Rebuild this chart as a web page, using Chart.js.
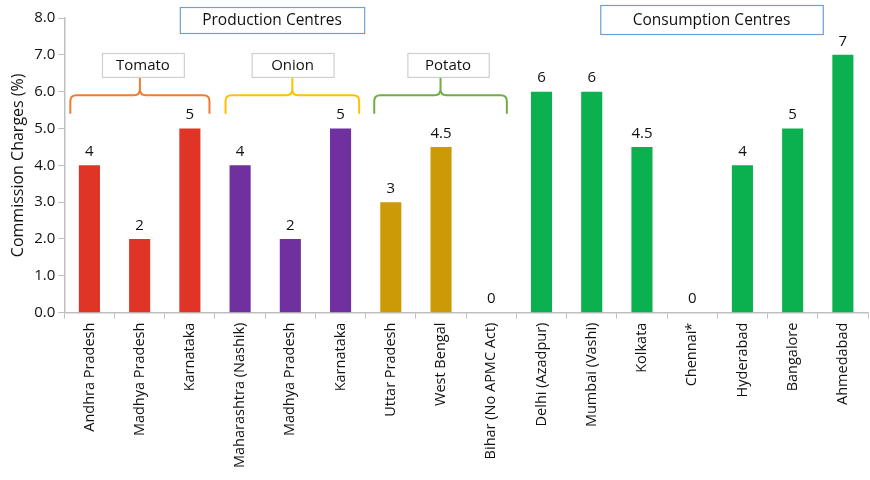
<!DOCTYPE html>
<html>
<head>
<meta charset="utf-8">
<script src="https://cdn.jsdelivr.net/npm/chart.js@4"></script>
<style>
  html, body { margin: 0; padding: 0; background: #fff; }
  #wrap { width: 870px; height: 480px; }
</style>
</head>
<body>
<div id="wrap"><canvas id="chart"></canvas></div>
<script>
// categories
const tomatoStates = ["Andhra Pradesh", "Madhya Pradesh", "Karnataka"];
const onionStates = ["Maharashtra (Nashik)", "Madhya Pradesh", "Karnataka"];
const potatoStates = ["Uttar Pradesh", "West Bengal", "Bihar (No APMC Act)"];
const consumptionCities = ["Delhi (Azadpur)", "Mumbai (Vashi)", "Kolkata", "Chennai*", "Hyderabad", "Bangalore", "Ahmedabad"];

// commission charges (%)
const tomatoValues = [4, 2, 5];
const onionValues = [4, 2, 5];
const potatoValues = [3, 4.5, 0];
const consumptionValues = [6, 6, 4.5, 0, 4, 5, 7];

const yTicks = [0, 1, 2, 3, 4, 5, 6, 7, 8];

const FONT = "'Open Sans', sans-serif";

const labels = [...tomatoStates, ...onionStates, ...potatoStates, ...consumptionCities];
const values = [...tomatoValues, ...onionValues, ...potatoValues, ...consumptionValues];
const colors = [
  ...tomatoValues.map(() => "#e03426"),
  ...onionValues.map(() => "#7030a0"),
  ...potatoValues.map(() => "#cc9a06"),
  ...consumptionValues.map(() => "#0bb04f"),
];

// value labels above bars
const valueLabels = {
  id: "valueLabels",
  afterDatasetsDraw(chart) {
    const ctx = chart.ctx;
    const meta = chart.getDatasetMeta(0);
    ctx.save();
    ctx.font = "15px " + FONT;
    ctx.fillStyle = "#111";
    ctx.textAlign = "center";
    ctx.textBaseline = "bottom";
    meta.data.forEach((bar, i) => {
      ctx.fillText(String(values[i]), bar.x, bar.y - 6);
    });
    ctx.restore();
  },
};

function drawBrace(ctx, x1, x2, yLine, yEnd, yTip, color) {
  const r = 6;
  const mid = (x1 + x2) / 2;
  ctx.strokeStyle = color;
  ctx.lineWidth = 2;
  ctx.beginPath();
  ctx.moveTo(x1, yEnd);
  ctx.lineTo(x1, yLine + r);
  ctx.quadraticCurveTo(x1, yLine, x1 + r, yLine);
  ctx.lineTo(mid - r, yLine);
  ctx.quadraticCurveTo(mid, yLine, mid, yLine - r);
  ctx.lineTo(mid, yTip);
  ctx.moveTo(mid, yLine - r);
  ctx.quadraticCurveTo(mid, yLine, mid + r, yLine);
  ctx.lineTo(x2 - r, yLine);
  ctx.quadraticCurveTo(x2, yLine, x2, yLine + r);
  ctx.lineTo(x2, yEnd);
  ctx.stroke();
}

function drawBox(ctx, x1, x2, y1, y2, text, border, size) {
  ctx.fillStyle = "#fff";
  ctx.fillRect(x1, y1, x2 - x1, y2 - y1);
  ctx.strokeStyle = border;
  ctx.lineWidth = 1.2;
  ctx.strokeRect(x1 + 0.5, y1 + 0.5, x2 - x1, y2 - y1);
  ctx.fillStyle = "#111";
  ctx.font = size + "px " + FONT;
  ctx.textAlign = "center";
  ctx.textBaseline = "middle";
  ctx.fillText(text, (x1 + x2) / 2, (y1 + y2) / 2 + 1);
}

// group annotations: boxes and braces
const groupNotes = {
  id: "groupNotes",
  afterDraw(chart) {
    const ctx = chart.ctx;
    const xs = chart.scales.x;
    const ys = chart.scales.y;
    const cw = xs.width / labels.length;
    const px = (c) => xs.left + c * cw;
    ctx.save();
    drawBox(ctx, px(2.3), px(5.97), 7, 33, "Production Centres", "#6f9fd8", 15.5);
    drawBox(ctx, px(10.67), px(15.1), 5, 34, "Consumption Centres", "#6f9fd8", 15.5);

    const yLine = ys.getPixelForValue(5.9);
    const yEnd = ys.getPixelForValue(5.4);
    const yTip = ys.getPixelForValue(6.45);
    drawBrace(ctx, px(0.12), px(2.89), yLine, yEnd, yTip, "#ed7d31");
    drawBrace(ctx, px(3.21), px(5.87), yLine, yEnd, yTip, "#ffc000");
    drawBrace(ctx, px(6.17), px(8.81), yLine, yEnd, yTip, "#70ad47");

    const bTop = ys.getPixelForValue(7.05);
    const bBot = ys.getPixelForValue(6.4);
    drawBox(ctx, px(0.75), px(2.38), bTop, bBot, "Tomato", "#cfcfcf", 15);
    drawBox(ctx, px(3.73), px(5.36), bTop, bBot, "Onion", "#cfcfcf", 15);
    drawBox(ctx, px(6.83), px(8.45), bTop, bBot, "Potato", "#cfcfcf", 15);
    ctx.restore();
  },
};

new Chart(document.getElementById("chart"), {
  type: "bar",
  data: {
    labels: labels,
    datasets: [{
      data: values,
      backgroundColor: colors,
      barPercentage: 0.6,
      categoryPercentage: 0.7,
    }],
  },
  options: {
    responsive: true,
    maintainAspectRatio: false,
    animation: false,
    layout: { padding: { top: 18, right: 2, left: 9, bottom: 8 } },
    plugins: {
      legend: { display: false },
      tooltip: { enabled: false },
    },
    scales: {
      x: {
        grid: { display: true, drawOnChartArea: false, tickLength: 6, color: "#bfbfbf", offset: true },
        border: { color: "#bfbfbf", width: 1.5 },
        ticks: {
          color: "#111",
          font: { family: FONT, size: 14.5 },
          minRotation: 90,
          maxRotation: 90,
          autoSkip: false,
          padding: 4,
        },
      },
      y: {
        min: 0,
        max: 8,
        afterBuildTicks: (axis) => { axis.ticks = yTicks.map((v) => ({ value: v })); },
        grid: { display: true, drawOnChartArea: false, tickLength: 6, color: "#bfbfbf" },
        border: { color: "#bfbfbf", width: 1.5 },
        ticks: {
          color: "#111",
          font: { family: FONT, size: 15 },
          padding: 3,
          callback: (v) => Number(v).toFixed(1),
        },
        title: {
          display: true,
          text: "Commission Charges (%)",
          color: "#111",
          font: { family: FONT, size: 16 },
          padding: { top: 0, bottom: 3 },
        },
      },
    },
  },
  plugins: [valueLabels, groupNotes],
});
</script>
</body>
</html>
